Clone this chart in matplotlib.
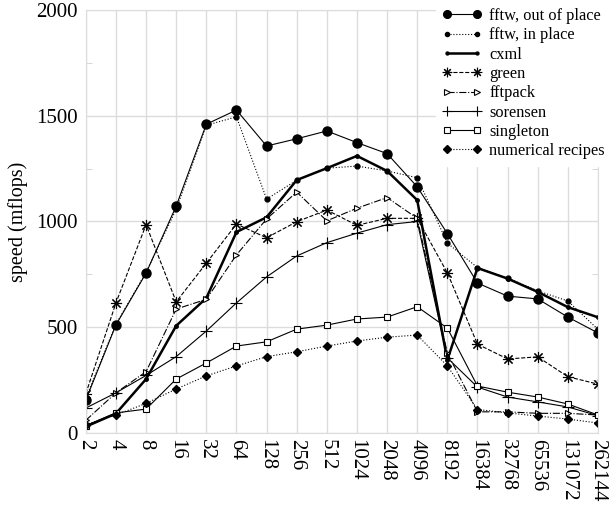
import matplotlib
matplotlib.use("Agg")
import matplotlib.pyplot as plt

plt.rcParams['font.family'] = ['Liberation Serif', 'DejaVu Serif']

sizes = ['2', '4', '8', '16', '32', '64', '128', '256', '512', '1024', '2048',
         '4096', '8192', '16384', '32768', '65536', '131072', '262144']

fftw_out = [156, 511, 756, 1073, 1460, 1527, 1357, 1391, 1428, 1373, 1321,
            1164, 943, 709, 647, 634, 548, 473]
fftw_in = [165, 515, 760, 1058, 1455, 1495, 1106, 1195, 1252, 1262, 1239,
           1207, 898, 782, 733, 672, 624, 490]
cxml = [30, 92, 255, 507, 638, 950, 1020, 1196, 1252, 1310, 1239,
        1101, 345, 780, 730, 667, 595, 547]
green = [186, 615, 985, 620, 803, 988, 923, 999, 1054, 982, 1015,
         1015, 757, 420, 350, 360, 266, 231]
fftpack = [60, 190, 290, 586, 632, 842, 1012, 1139, 1003, 1063, 1113,
           1015, 378, 100, 100, 93, 93, 85]
sorensen = [118, 190, 272, 361, 482, 615, 738, 837, 900, 945, 985,
            1000, 355, 217, 170, 147, 123, 82]
singleton = [35, 95, 113, 255, 331, 411, 431, 491, 510, 539, 548,
             597, 496, 222, 193, 170, 137, 85]
numrec = [40, 85, 140, 208, 270, 317, 361, 384, 411, 435, 453,
          463, 317, 111, 95, 80, 66, 47]

fig = plt.figure(figsize=(6.13, 5.05), dpi=100)
ax = fig.add_axes([0.140, 0.1426, 0.8355, 0.8376])

x = list(range(len(sizes)))
thin = 0.8

ax.plot(x, fftw_out, 'k-', lw=thin, marker='o', ms=6.5, label='fftw, out of place')
ax.plot(x, fftw_in, 'k:', lw=thin, marker='o', ms=3.5, label='fftw, in place')
ax.plot(x, cxml, 'k-', lw=1.8, marker='o', ms=2.5, label='cxml')
ax.plot(x, green, 'k--', lw=thin, marker=(8, 2, 0), ms=8, mew=0.8, label='green')
ax.plot(x, fftpack, 'k-.', lw=thin, marker='>', ms=5, mfc='white', mew=0.8, label='fftpack')
ax.plot(x, sorensen, 'k-', lw=thin, marker='+', ms=9, mew=0.8, label='sorensen')
ax.plot(x, singleton, 'k-', lw=thin, marker='s', ms=5, mfc='white', mew=0.8, label='singleton')
ax.plot(x, numrec, 'k:', lw=thin, marker='D', ms=4.5, label='numerical recipes')

ax.set_xlim(0, len(sizes) - 1)
ax.set_ylim(0, 2000)
ax.set_xticks(x)
ax.set_xticklabels(sizes, rotation=-90, fontsize=15)
ax.set_yticks([0, 500, 1000, 1500, 2000])
ax.set_yticks([250, 750, 1250, 1750], minor=True)
ax.tick_params(axis='y', which='major', labelsize=15, length=0, pad=6)
ax.tick_params(axis='x', which='major', length=0, pad=4)
ax.tick_params(axis='y', which='minor', direction='in', length=4, color='#d0d0d0',
               left=True, right=True)
ax.grid(True, which='major', color='#dcdcdc', lw=1)
ax.set_axisbelow(True)
for s in ax.spines.values():
    s.set_color('#dcdcdc')

ax.set_ylabel('speed (mflops)', fontsize=14.5, labelpad=6)

leg = ax.legend(loc='upper right', bbox_to_anchor=(1.0, 1.0), bbox_transform=fig.transFigure,
                numpoints=2, handlelength=2.4, handletextpad=0.45, labelspacing=0.2,
                borderaxespad=0.1, fontsize=11.8, markerscale=0.85,
                frameon=True, fancybox=False)
leg.get_frame().set_edgecolor('white')
leg.get_frame().set_facecolor('white')
leg.get_frame().set_alpha(1)

fig.savefig('out.png', dpi=100)
